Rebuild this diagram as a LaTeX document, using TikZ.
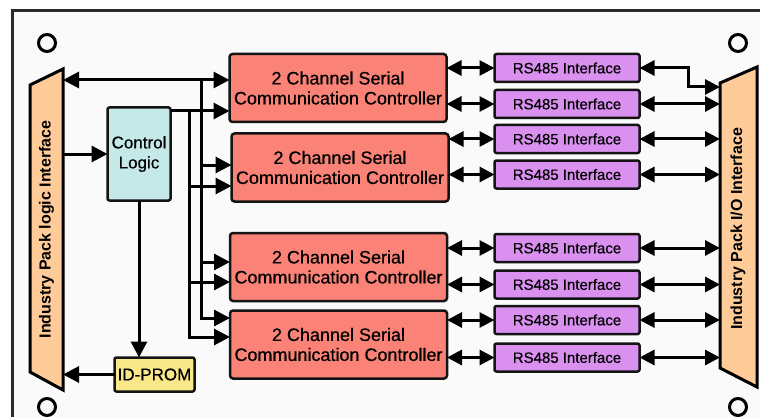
\documentclass[tikz,border=0pt]{standalone}
\usepackage{fontspec}
\setmainfont{Liberation Sans}
\newfontfamily\boxfont[FakeBold=0.5]{Liberation Sans}
\usetikzlibrary{arrows.meta,calc}

\definecolor{panelfill}{HTML}{FAFAFA}
\definecolor{framecol}{HTML}{2A2A2A}
\definecolor{sccfill}{HTML}{FA8276}
\definecolor{rsfill}{HTML}{D990EF}
\definecolor{ctlfill}{HTML}{C5E9E9}
\definecolor{promfill}{HTML}{F9E88A}
\definecolor{trapfill}{HTML}{FFCC99}

\begin{document}
\begin{tikzpicture}[x=1pt,y=-1pt,
  box/.style={draw=black!92, line width=2.5pt, align=center, inner sep=0pt, outer sep=0pt},
  scc/.style={box, fill=sccfill, rounded corners=3pt, minimum width=217pt, minimum height=68pt,
    font=\boxfont\fontsize{18}{20}\selectfont},
  rs/.style={box, fill=rsfill, rounded corners=2pt, minimum width=145pt, minimum height=28pt,
    font=\boxfont\fontsize{15}{17}\selectfont},
  ctlbox/.style={box, fill=ctlfill, rounded corners=2pt, minimum width=63pt, minimum height=93pt,
    font=\boxfont\fontsize{17}{20}\selectfont},
  prombox/.style={box, fill=promfill, rounded corners=2pt, minimum width=80pt, minimum height=34pt,
    font=\boxfont\fontsize{17}{19}\selectfont},
  trapframe/.style={inner sep=0pt, outer sep=0pt},
  trapshape/.style={draw=black, fill=trapfill, line width=3pt, line join=miter},
  traplabel/.style={rotate=90, font=\bfseries\fontsize{16}{18}\selectfont},
  wire/.style={line width=3pt, draw=black},
  arr/.style={wire, -{Triangle[length=16pt,width=16pt]}},
  biarr/.style={wire, {Triangle[length=15pt,width=15pt]}-{Triangle[length=15pt,width=15pt]}},
  hole/.style={draw=black, line width=3pt, circle, minimum size=17pt, inner sep=0pt},
]
\useasboundingbox (0,0) rectangle (760,417);
\fill[white] (0,0) rectangle (760,417);

% board outline (runs past the right and bottom edges)
\begin{scope}
  \clip (0,0) rectangle (760,417);
  \draw[framecol, fill=panelfill, line width=3pt] (12,11) rectangle (800,450);
\end{scope}

% mounting holes
\node[hole] (h1) at (47,43) {};
\node[hole] (h2) at (47,407) {};
\node[hole] (h3) at (738,43) {};
\node[hole] (h4) at (738,407) {};

% IP logic interface (left) and I/O interface (right)
\node[trapframe, minimum width=33pt, minimum height=321pt] (ipl) at (46.5,229.5) {};
\draw[trapshape] (ipl.north east) -- (ipl.south east) -- ([yshift=18pt]ipl.south west)
  -- ([yshift=-16pt]ipl.north west) -- cycle;
\node[traplabel] (ipltext) at (ipl.center) {Industry Pack logic Interface};

\node[trapframe, minimum width=37pt, minimum height=320pt] (iop) at (738.5,227) {};
\draw[trapshape] (iop.north east) -- (iop.south east) -- ([yshift=19pt]iop.south west)
  -- ([yshift=-16pt]iop.north west) -- cycle;
\node[traplabel] (ioptext) at (738,229) {Industry Pack I/O Interface};

% control logic and ID-PROM
\node[ctlbox] (ctl) at (139,154) {Control\\Logic};
\node[prombox] (idp) at (154.5,374.5) {ID-PROM};

% serial controllers
\node[scc] (scc1) at (338,88) {2 Channel Serial\\Communication Controller};
\node[scc] (scc2) at (340,167.5) {2 Channel Serial\\Communication Controller};
\node[scc] (scc3) at (338.5,267) {2 Channel Serial\\Communication Controller};
\node[scc] (scc4) at (338.5,344.5) {2 Channel Serial\\Communication Controller};

% RS485 line drivers
\node[rs] (r1) at (567,68) {RS485 Interface};
\node[rs] (r2) at (567,104) {RS485 Interface};
\node[rs] (r3) at (567,139) {RS485 Interface};
\node[rs] (r4) at (567,174.5) {RS485 Interface};
\node[rs] (r5) at (567,248) {RS485 Interface};
\node[rs] (r6) at (567,284.5) {RS485 Interface};
\node[rs] (r7) at (567,320) {RS485 Interface};
\node[rs] (r8) at (567,357.5) {RS485 Interface};

% data bus from the IP logic interface
\coordinate (busA) at (201,80);
\draw[wire, {Triangle[length=16pt,width=16pt]}-{Triangle[length=16pt,width=16pt]}]
  (ipl.east |- busA) -- (scc1.west |- busA);
\draw[arr] (busA) |- (scc4.west |- 0,318);
\draw[arr] (busA |- 0,165) -- (scc2.west |- 0,165);
\draw[arr] (busA |- 0,262) -- (scc3.west |- 0,262);

% control bus from the control logic
\coordinate (busB) at (189,111);
\draw[arr] (ctl.east |- busB) -- (scc1.west |- busB);
\draw[arr] (busB) |- (scc4.west |- 0,337);
\draw[arr] (busB |- 0,186) -- (scc2.west |- 0,186);
\draw[arr] (busB |- 0,282) -- (scc3.west |- 0,282);

% logic interface, control logic and ID-PROM
\draw[arr] (ipl.east |- ctl.west) -- (ctl.west);
\draw[arr] (ctl.south) -- (ctl.south |- idp.north);
\draw[arr] (idp.west) -- (idp.west -| ipl.east);

% controllers to RS485 drivers
\draw[biarr] (scc1.east |- r1.west) -- (r1.west);
\draw[biarr] (scc1.east |- r2.west) -- (r2.west);
\draw[biarr] (scc2.east |- r3.west) -- (r3.west);
\draw[biarr] (scc2.east |- r4.west) -- (r4.west);
\draw[biarr] (scc3.east |- r5.west) -- (r5.west);
\draw[biarr] (scc3.east |- r6.west) -- (r6.west);
\draw[biarr] (scc4.east |- r7.west) -- (r7.west);
\draw[biarr] (scc4.east |- r8.west) -- (r8.west);

% RS485 drivers to the I/O interface
\draw[biarr] (r1.east) -- ++(49,0) |- (iop.west |- 0,87);
\draw[biarr] (r2.east) -- (r2.east -| iop.west);
\draw[biarr] (r3.east) -- (r3.east -| iop.west);
\draw[biarr] (r4.east) -- (r4.east -| iop.west);
\draw[biarr] (r5.east) -- (r5.east -| iop.west);
\draw[biarr] (r6.east) -- (r6.east -| iop.west);
\draw[biarr] (r7.east) -- (r7.east -| iop.west);
\draw[biarr] (r8.east) -- (r8.east -| iop.west);
\end{tikzpicture}
\end{document}
